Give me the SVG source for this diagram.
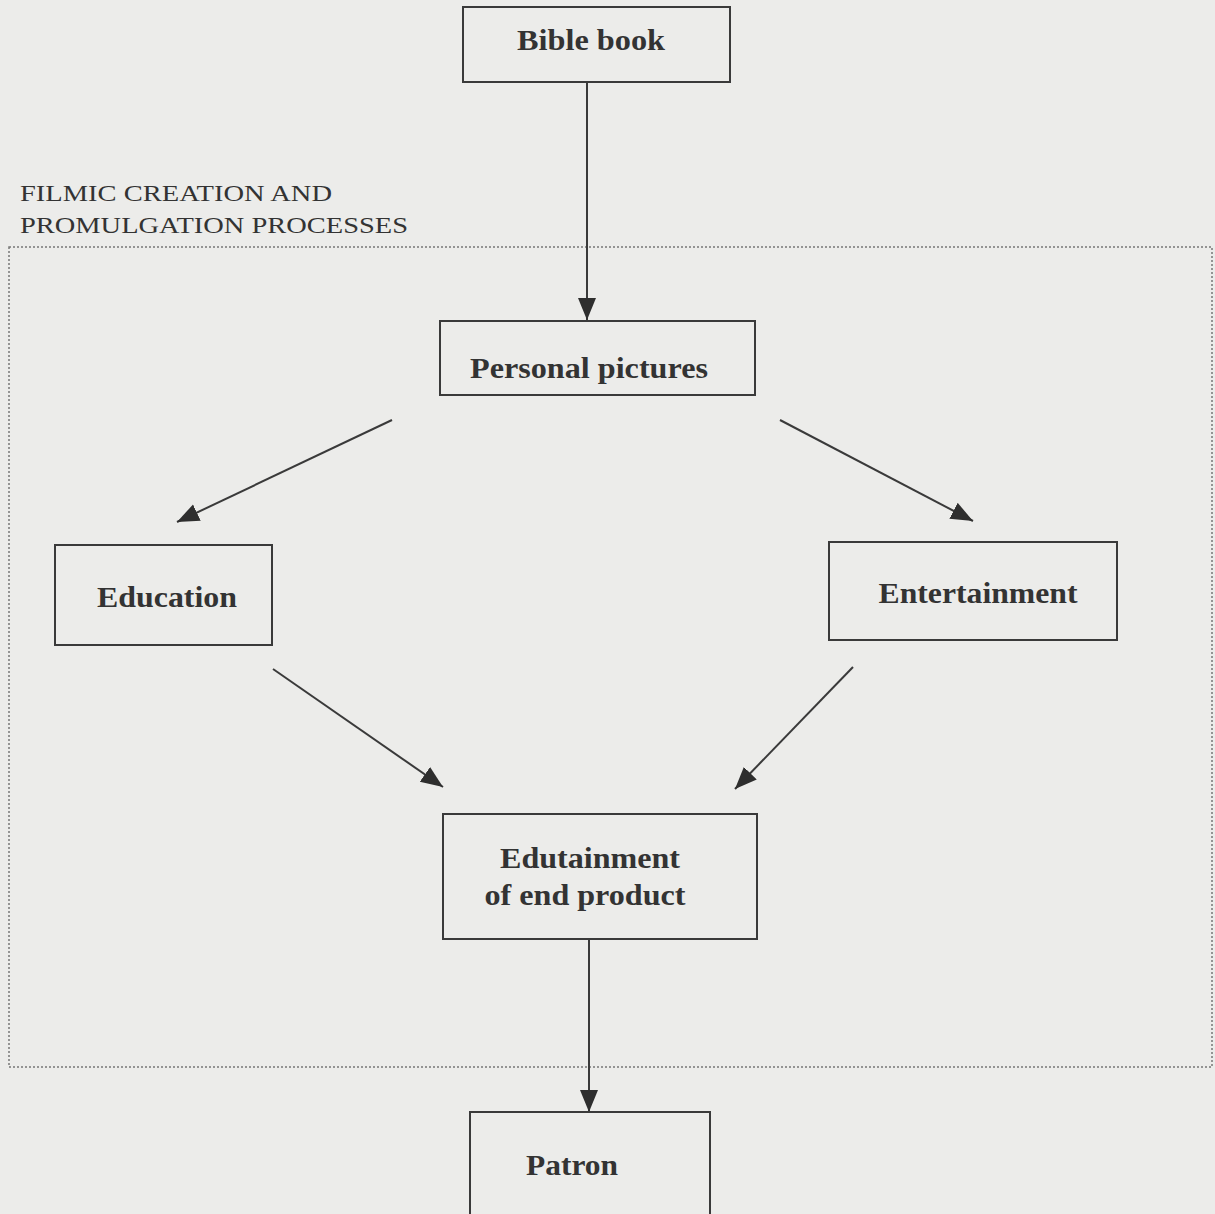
<svg xmlns="http://www.w3.org/2000/svg" width="1215" height="1214" viewBox="0 0 1215 1214">
<style>
.box{fill:none;stroke:#3a3a3a;stroke-width:2}
.t{font-family:"Liberation Serif",serif;font-weight:bold;font-size:30px;fill:#333;text-anchor:middle}
.lbl{font-family:"Liberation Serif",serif;font-size:23px;fill:#333}
.c{stroke:#3a3a3a;stroke-width:2;fill:none;marker-end:url(#ah)}
</style>
<defs>
<marker id="ah" markerUnits="userSpaceOnUse" markerWidth="24" markerHeight="20" refX="22" refY="9" orient="auto">
<path d="M0,0 L22,9 L0,18 Z" fill="#2e2e2e"/>
</marker>
</defs>
<rect width="1215" height="1214" fill="#ececea"/>
<g id="frame">
<rect x="9" y="247" width="1203" height="820" fill="none" stroke="#777" stroke-width="1.5" stroke-dasharray="2,2"/>
<text class="lbl" x="20" y="201" textLength="312" lengthAdjust="spacingAndGlyphs">FILMIC CREATION AND</text>
<text class="lbl" x="20" y="233" textLength="388" lengthAdjust="spacingAndGlyphs">PROMULGATION PROCESSES</text>
</g>
<g id="connectors">
<line class="c" x1="587" y1="82" x2="587" y2="320"/>
<line class="c" x1="392" y1="420" x2="177" y2="522"/>
<line class="c" x1="780" y1="420" x2="973" y2="521"/>
<line class="c" x1="273" y1="669" x2="443" y2="787"/>
<line class="c" x1="853" y1="667" x2="735" y2="789"/>
<line class="c" x1="589" y1="939" x2="589" y2="1112"/>
</g>
<g id="bible"><rect class="box" x="463" y="7" width="267" height="75"/><text class="t" x="591" y="50" textLength="148" lengthAdjust="spacingAndGlyphs">Bible book</text></g>
<g id="personal"><rect class="box" x="440" y="321" width="315" height="74"/><text class="t" x="589" y="378" textLength="238" lengthAdjust="spacingAndGlyphs">Personal pictures</text></g>
<g id="education"><rect class="box" x="55" y="545" width="217" height="100"/><text class="t" x="167" y="607" textLength="140" lengthAdjust="spacingAndGlyphs">Education</text></g>
<g id="entertainment"><rect class="box" x="829" y="542" width="288" height="98"/><text class="t" x="978" y="603" textLength="199" lengthAdjust="spacingAndGlyphs">Entertainment</text></g>
<g id="edutainment"><rect class="box" x="443" y="814" width="314" height="125"/><text class="t" x="590" y="868" textLength="180" lengthAdjust="spacingAndGlyphs">Edutainment</text><text class="t" x="585" y="905" textLength="201" lengthAdjust="spacingAndGlyphs">of end product</text></g>
<g id="patron"><rect class="box" x="470" y="1112" width="240" height="110"/><text class="t" x="572" y="1175" textLength="92" lengthAdjust="spacingAndGlyphs">Patron</text></g>
</svg>
